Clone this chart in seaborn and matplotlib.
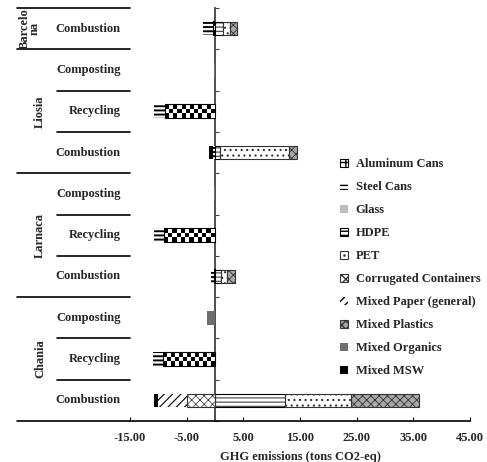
import matplotlib
matplotlib.use("Agg")
import matplotlib.pyplot as plt
from matplotlib.patches import Patch
import numpy as np
import pandas as pd
import seaborn as sns

# rows, top to bottom
cities = ["Barcelona", "Liosia", "Liosia", "Liosia", "Larnaca", "Larnaca", "Larnaca",
          "Chania", "Chania", "Chania"]
processes = ["Combustion", "Composting", "Recycling", "Combustion", "Composting",
             "Recycling", "Combustion", "Composting", "Recycling", "Combustion"]
city_labels = {"Barcelona": "Barcelo\nna", "Liosia": "Liosia",
               "Larnaca": "Larnaca", "Chania": "Chania"}

materials = ["Aluminum Cans", "Steel Cans", "Glass", "HDPE", "PET",
             "Corrugated Containers", "Mixed Paper (general)", "Mixed Plastics",
             "Mixed Organics", "Mixed MSW"]
aluminum_cans = [-0.3, 0, -8.8, 0, 0, -9.0, -0.2, 0, -9.1, 0]
steel_cans = [-1.9, 0, -1.9, -0.4, 0, -1.8, -0.5, 0, -1.8, 0]
glass = [0, 0, 0, 0, 0, 0, 0, 0, 0, 0]
hdpe = [1.4, 0, 0, 0.8, 0, 0, 1.0, 0, 0, 12.3]
pet = [1.2, 0, 0, 12.3, 0, 0, 1.1, 0, 0, 11.7]
corrugated = [0, 0, 0, 0, 0, 0, 0, 0, 0, -5.0]
mixed_paper = [0, 0, 0, 0, 0, 0, 0, 0, 0, -5.1]
mixed_plastics = [1.2, 0, 0, 1.3, 0, 0, 1.4, 0, 0, 12.0]
mixed_organics = [0, -0.2, 0, 0, -0.2, 0, 0, -1.5, 0, 0]
mixed_msw = [0, 0, 0, -0.7, 0, 0, 0, 0, 0, -0.6]
series = [aluminum_cans, steel_cans, glass, hdpe, pet, corrugated, mixed_paper,
          mixed_plastics, mixed_organics, mixed_msw]

x_ticks = [-15, -5, 5, 15, 25, 35, 45]

# fill styles (face, edge, edge width, hatch, hatch width)
styles = {
    "Aluminum Cans": dict(fc="none", ec="black", lw=0.8, hatch=None, hlw=1.0),
    "Steel Cans": dict(fc="white", ec="black", lw=0, hatch="----", hlw=1.4),
    "Glass": dict(fc="#bdbdbd", ec="#bdbdbd", lw=0, hatch=None, hlw=1.0),
    "HDPE": dict(fc="white", ec="black", lw=0.8, hatch="----", hlw=0.6),
    "PET": dict(fc="white", ec="#333333", lw=0.8, hatch="...", hlw=0.8),
    "Corrugated Containers": dict(fc="white", ec="#333333", lw=0.8, hatch="xxxx", hlw=0.5),
    "Mixed Paper (general)": dict(fc="white", ec="black", lw=0, hatch="////", hlw=0.8),
    "Mixed Plastics": dict(fc="#a8a8a8", ec="#333333", lw=0.8, hatch="xxxx", hlw=0.6),
    "Mixed Organics": dict(fc="#6e6e6e", ec="#6e6e6e", lw=0, hatch=None, hlw=1.0),
    "Mixed MSW": dict(fc="black", ec="black", lw=0, hatch=None, hlw=1.0),
}

sns.set_style("white")
plt.rcParams["font.family"] = ["Liberation Serif", "DejaVu Serif"]
plt.rcParams["font.weight"] = "bold"
plt.rcParams["font.size"] = 9

fig = plt.figure(figsize=(4.87, 4.62), dpi=100)
ax = fig.add_axes([130 / 487, 1 - 421 / 462, 340 / 487, 413 / 462])

row_keys = [f"{c} {p}" for c, p in zip(cities, processes)]
n = len(row_keys)
pos_left = np.zeros(n)
neg_left = np.zeros(n)
for name, values in zip(materials, series):
    vals = np.array(values, dtype=float)
    left = np.where(vals >= 0, pos_left, neg_left)
    pos_left += np.clip(vals, 0, None)
    neg_left += np.clip(vals, None, 0)
    keep = vals != 0
    if not keep.any():
        continue
    st = styles[name]
    df = pd.DataFrame({"row": np.array(row_keys)[keep], "value": vals[keep]})
    n0 = len(ax.patches)
    with plt.rc_context({"hatch.linewidth": st["hlw"]}):
        sns.barplot(data=df, x="value", y="row", order=row_keys, orient="y",
                    width=0.33, errorbar=None, color="white", left=left[keep],
                    facecolor=st["fc"], edgecolor=st["ec"], linewidth=st["lw"],
                    hatch=st["hatch"], zorder=3, ax=ax)
    bars = ax.patches[n0:]
    for p in bars:
        if hasattr(p, "set_hatch_linewidth"):
            p.set_hatch_linewidth(st["hlw"])
    if name == "Aluminum Cans":
        # checkerboard fill clipped to each bar
        for p in bars:
            bb = p.get_bbox()
            x0, x1 = sorted([bb.x0, bb.x1])
            y0, y1 = sorted([bb.y0, bb.y1])
            cols = max(1, int(round((x1 - x0) / 0.72)))
            cells = np.add.outer(np.arange(3), np.arange(cols)) % 2
            ax.imshow(cells, cmap="gray", vmin=0, vmax=1, extent=(x0, x1, y1, y0),
                      aspect="auto", interpolation="nearest", zorder=2.9,
                      clip_path=p)

ax.set_xlim(-15, 45)
ax.set_ylim(n - 0.5, -0.5)
ax.set_ylabel("")

axis_color = "#404040"
for s in ["top", "right"]:
    ax.spines[s].set_visible(False)
ax.spines["left"].set_position(("data", 0))
ax.spines["left"].set_color(axis_color)
ax.spines["left"].set_linewidth(1.3)
ax.spines["bottom"].set_color("black")
ax.spines["bottom"].set_linewidth(1.2)

ax.set_yticks(np.arange(-0.5, n, 1.0))
ax.tick_params(axis="y", left=True, direction="in", length=3, width=0.8,
               color=axis_color, labelleft=False)
ax.set_xticks(x_ticks)
ax.set_xticklabels([f"{v:.2f}" for v in x_ticks])
ax.tick_params(axis="x", bottom=True, direction="in", length=3, width=0.8,
               color="black", pad=8, labelsize=9)
ax.set_xlabel("GHG emissions (tons CO2-eq)", labelpad=5, fontsize=9, fontweight="bold")

# category label table on the left
full_x = (17 - 130) / 340
inner_x = (57 - 130) / 340
tr = ax.get_yaxis_transform()
ax.plot([full_x, 0], [n - 0.5, n - 0.5], transform=tr, color="black", lw=1.2, clip_on=False)
ax.plot([full_x, 0], [-0.5, -0.5], transform=tr, color="black", lw=1.2, clip_on=False)
for i in range(1, n):
    x_start = full_x if cities[i] != cities[i - 1] else inner_x
    ax.plot([x_start, 0], [i - 0.5, i - 0.5], transform=tr, color="black", lw=1.2,
            clip_on=False)
for i, proc in enumerate(processes):
    ax.text(-0.027, i, proc, transform=tr, ha="right", va="center", fontsize=9,
            fontweight="bold")
for city in dict.fromkeys(cities):
    idx = [i for i, c in enumerate(cities) if c == city]
    x_lab = -0.295 if city == "Barcelona" else -0.265
    ax.text(x_lab, np.mean(idx), city_labels[city], transform=tr, rotation=90,
            ha="center", va="center", fontsize=9, fontweight="bold", linespacing=0.8)

# legend
handles = []
for name in materials:
    st = styles[name]
    with plt.rc_context({"hatch.linewidth": st["hlw"]}):
        h = Patch(facecolor="white" if st["fc"] == "none" else st["fc"],
                  edgecolor=st["ec"], linewidth=st["lw"] if st["lw"] else 0,
                  hatch="++" if name == "Aluminum Cans" else st["hatch"])
    handles.append(h)
ax.legend(handles, materials, loc="upper left", bbox_to_anchor=(340 / 487, 1 - 158 / 462),
          bbox_transform=fig.transFigure, frameon=False, handlelength=0.6,
          handleheight=0.6, handletextpad=0.65, labelspacing=0.88, borderpad=0,
          borderaxespad=0, prop={"weight": "bold", "size": 9})

fig.savefig("out.png", dpi=100)
